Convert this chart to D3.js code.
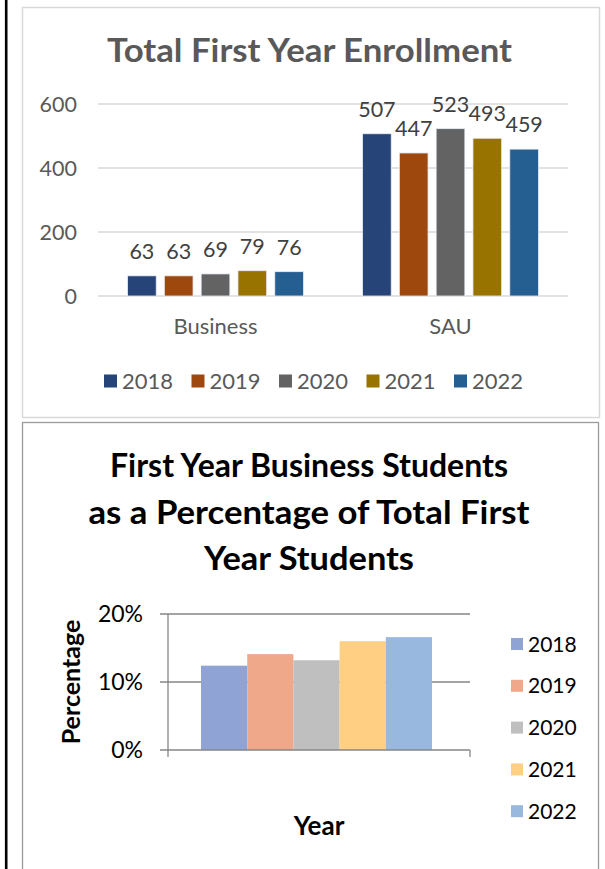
<!DOCTYPE html>
<html lang="en">
<head>
  <meta charset="UTF-8">
  <title>First Year Enrollment</title>
  <script src="https://d3js.org/d3.v7.min.js"></script>
  <style>
    body { margin: 0; background: white; }
    text { font-family: Lato, "Open Sans", sans-serif; }
    .grid { stroke: #d9d9d9; stroke-width: 1.3px; }
    .axis2 { stroke: #868686; stroke-width: 1.3px; }
  </style>
</head>
<body>
<svg id="page" width="605" height="869"></svg>
<script>
  // data
  const years = ["2018", "2019", "2020", "2021", "2022"];
  const groups = ["Business", "SAU"];
  const business = [63, 63, 69, 79, 76];
  const sau = [507, 447, 523, 493, 459];
  const enrollTicks = [0, 200, 400, 600];
  const pctValues = [0.124, 0.141, 0.132, 0.160, 0.166];
  const pctTicks = [0, 0.1, 0.2];
  const darkColors = ["#264478", "#9e480e", "#636363", "#997300", "#255e91"];
  const paleColors = ["#90a3d5", "#f0a88a", "#bfbfbf", "#ffd083", "#98b8e0"];

  const svg = d3.select("#page");

  // left page border line and the two chart frames
  svg.append("line").attr("x1", 6.2).attr("x2", 6.2).attr("y1", 0).attr("y2", 869)
     .attr("stroke", "black").attr("stroke-width", 2.6);
  svg.append("rect").attr("x", 22.5).attr("y", 7.5).attr("width", 577).attr("height", 410)
     .attr("fill", "white").attr("stroke", "#d9d9d9").attr("stroke-width", 1.5);
  svg.append("rect").attr("x", 22.5).attr("y", 422.5).attr("width", 576).attr("height", 470)
     .attr("fill", "white").attr("stroke", "#9a9a9a").attr("stroke-width", 1.3);

  //---------- chart 1 : total first year enrollment ----------
  const c1 = svg.append("g");
  c1.append("text").attr("x", 309.5).attr("y", 62).attr("text-anchor", "middle")
    .attr("font-size", 32).attr("font-weight", "bold").attr("fill", "#595959")
    .attr("textLength", 405).attr("lengthAdjust", "spacingAndGlyphs")
    .text("Total First Year Enrollment");

  const y1 = d3.scaleLinear().domain([0, 600]).range([296, 104]);
  const x1 = d3.scaleBand().domain(groups).range([98, 568]);
  const xin = d3.scaleBand().domain(years).range([-88, 88]).paddingInner(0.22);

  c1.selectAll("line.grid").data(enrollTicks).join("line")
    .attr("class", "grid")
    .attr("x1", 98).attr("x2", 568)
    .attr("y1", d => y1(d)).attr("y2", d => y1(d));

  c1.selectAll("text.ytick").data(enrollTicks).join("text")
    .attr("class", "ytick")
    .attr("x", 77).attr("y", d => y1(d) + 7.5)
    .attr("text-anchor", "end").attr("font-size", 21.5).attr("fill", "#595959")
    .text(d => d);

  c1.selectAll("text.cat").data(groups).join("text")
    .attr("class", "cat")
    .attr("x", d => x1(d) + x1.bandwidth() / 2).attr("y", 334)
    .attr("text-anchor", "middle").attr("font-size", 22).attr("fill", "#595959")
    .text(d => d);

  const rows = [business, sau];
  groups.forEach((g, gi) => {
    const cx = x1(g) + x1.bandwidth() / 2;
    const gg = c1.append("g").attr("transform", "translate(" + cx + ",0)");
    gg.selectAll("rect").data(rows[gi]).join("rect")
      .attr("x", (d, i) => xin(years[i]))
      .attr("width", xin.bandwidth())
      .attr("y", d => y1(d))
      .attr("height", d => y1(0) - y1(d))
      .attr("fill", (d, i) => darkColors[i])
      .attr("stroke", "#e8eef6").attr("stroke-width", 0.8);
    gg.selectAll("text").data(rows[gi]).join("text")
      .attr("x", (d, i) => xin(years[i]) + xin.bandwidth() / 2)
      .attr("y", d => y1(d) - 17)
      .attr("text-anchor", "middle").attr("font-size", 21.5).attr("fill", "#404040")
      .text(d => d);
  });

  const leg1 = c1.selectAll("g.leg").data(years).join("g")
    .attr("class", "leg")
    .attr("transform", (d, i) => "translate(" + (104 + i * 87.5) + ",374.5)");
  leg1.append("rect").attr("width", 13).attr("height", 13)
    .attr("fill", (d, i) => darkColors[i]);
  leg1.append("text").attr("x", 18).attr("y", 14)
    .attr("font-size", 22).attr("fill", "#595959").text(d => d);

  //---------- chart 2 : business share of first years ----------
  const c2 = svg.append("g");
  const titleLines = [
    { t: "First Year Business Students", y: 477, w: 398 },
    { t: "as a Percentage of Total First", y: 524, w: 441 },
    { t: "Year Students", y: 570, w: 210 }
  ];
  c2.selectAll("text.title").data(titleLines).join("text")
    .attr("class", "title")
    .attr("x", 309).attr("y", d => d.y).attr("text-anchor", "middle")
    .attr("font-size", 33).attr("font-weight", "bold").attr("fill", "black")
    .attr("textLength", d => d.w).attr("lengthAdjust", "spacingAndGlyphs")
    .text(d => d.t);

  const y2 = d3.scaleLinear().domain([0, 0.2]).range([750, 614]);
  const x2 = d3.scaleBand().domain(years).range([201, 432]);

  c2.selectAll("line.g2").data(pctTicks.slice(1)).join("line")
    .attr("class", "axis2")
    .attr("x1", 160).attr("x2", 470)
    .attr("y1", d => y2(d)).attr("y2", d => y2(d));

  c2.selectAll("rect").data(pctValues).join("rect")
    .attr("x", (d, i) => x2(years[i]))
    .attr("width", x2.bandwidth())
    .attr("y", d => y2(d))
    .attr("height", d => y2(0) - y2(d))
    .attr("fill", (d, i) => paleColors[i]);

  // axes drawn like the old excel style
  c2.append("line").attr("class", "axis2").attr("x1", 168).attr("x2", 168)
    .attr("y1", y2(0.2)).attr("y2", 757);
  c2.append("line").attr("class", "axis2").attr("x1", 470).attr("x2", 470)
    .attr("y1", y2(0)).attr("y2", 757);
  c2.append("line").attr("class", "axis2").attr("x1", 160).attr("x2", 470)
    .attr("y1", y2(0)).attr("y2", y2(0));

  c2.selectAll("text.ytick2").data(pctTicks).join("text")
    .attr("class", "ytick2")
    .attr("x", 143).attr("y", d => y2(d) + 8)
    .attr("text-anchor", "end").attr("font-size", 23).attr("fill", "black")
    .text(d => d3.format(".0%")(d));

  c2.append("text")
    .attr("transform", "translate(80,682) rotate(-90)")
    .attr("text-anchor", "middle").attr("font-size", 25).attr("font-weight", "bold")
    .text("Percentage");
  c2.append("text").attr("x", 319).attr("y", 835)
    .attr("text-anchor", "middle").attr("font-size", 26).attr("font-weight", "bold")
    .text("Year");

  const leg2 = c2.selectAll("g.leg2").data(years).join("g")
    .attr("class", "leg2")
    .attr("transform", (d, i) => "translate(511," + (644 + i * 41.8) + ")");
  leg2.append("rect").attr("y", -6).attr("width", 12).attr("height", 12)
    .attr("fill", (d, i) => paleColors[i]);
  leg2.append("text").attr("x", 17).attr("y", 7.5)
    .attr("font-size", 21).attr("fill", "black").text(d => d);
</script>
</body>
</html>
